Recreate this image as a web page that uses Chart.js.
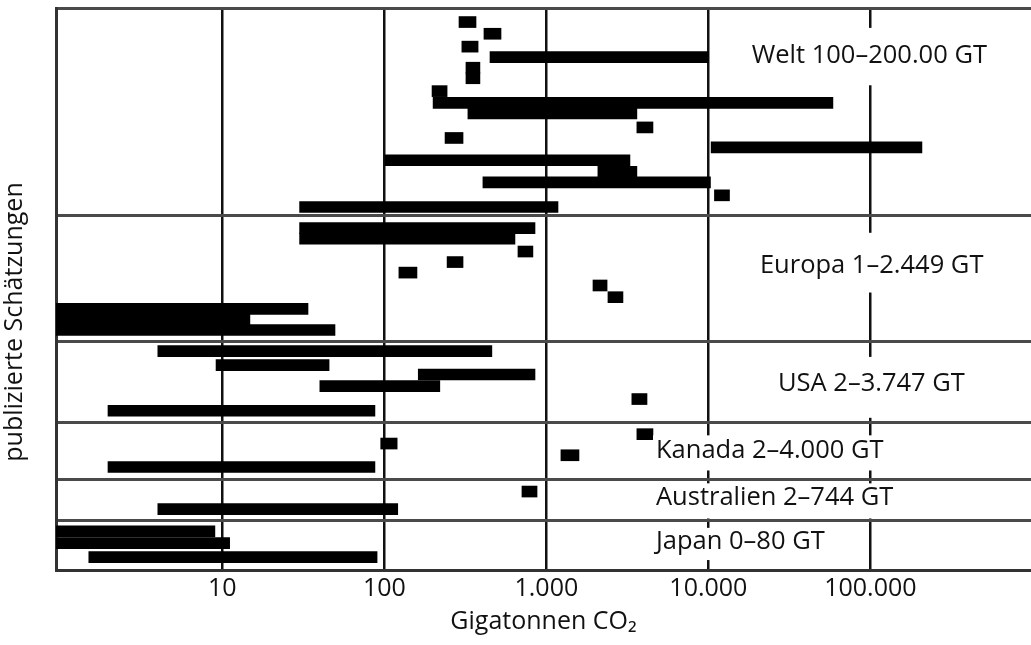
<!DOCTYPE html>
<html><head><meta charset="utf-8">
<script src="https://cdn.jsdelivr.net/npm/chart.js@4/dist/chart.umd.min.js"></script>
<style>html,body{margin:0;padding:0;background:#fff}canvas{display:block}</style>
</head><body>
<canvas id="c" width="1031" height="645"></canvas>
<script>
// ---- data ----
// row index of each published estimate (counted from the bottom)
const estimateRows = [
  46.8, 45.8, 44.7, 43.8, 42.9, 42.0, 40.9, 39.9, 39.0, 37.8, 36.9, 36.1, 35.0, 34.0, 33.1, 32.0, 31.0,
  29.2, 28.3, 27.2, 26.3, 25.4, 24.3, 23.3, 22.3, 21.4, 20.5,
  18.7, 17.5, 16.7, 15.7, 14.6, 13.6,
  11.6, 10.8, 9.8, 8.8,
  6.7, 5.2,
  3.3, 2.3, 1.1
];
// lower bound of each estimate (Gt CO2)
const lowValues = [
  289, 412, 301, 449, 319, 319, 197, 200, 328, 3620, 237, 10400, 101, 2080, 406, 10900, 30,
  30, 30, 668, 244, 123, 1940, 2400, 0.9, 0.9, 0.9,
  4.0, 9.15, 162, 40, 3370, 1.97,
  3620, 95, 1230, 1.97,
  707, 4.0,
  0.9, 0.9, 1.5
];
// upper bound of each estimate (Gt CO2)
const highValues = [
  368, 525, 379, 10000, 389, 389, 244, 58700, 3620, 4550, 306, 208000, 3280, 3620, 10300, 13500, 1180,
  851, 640, 826, 306, 159, 2370, 2970, 33.8, 14.8, 49.6,
  461, 45.6, 851, 220, 4180, 87.5,
  4550, 120, 1590, 87.5,
  876, 121,
  9.0, 11.1, 90.2
];
const regionNames = ['Welt 100–200.00 GT', 'Europa 1–2.449 GT', 'USA 2–3.747 GT', 'Kanada 2–4.000 GT', 'Australien 2–744 GT', 'Japan 0–80 GT'];
const regionBoundaries = [30.3, 19.5, 12.6, 7.7, 4.2];
const xTickValues = [10, 100, 1000, 10000, 100000];

// ---- layout of the region labels (value / row units) ----
const labelLayout = [
  {x: 18500, y: 43.9, top: 46.3, bottom: 41.4},
  {x: 20800, y: 26.0, top: 28.8, bottom: 23.7},
  {x: 26900, y: 15.9, top: 18.2, bottom: 13.0},
  {x: 4750,  y: 10.2, top: 11.5, bottom: 8.5},
  {x: 4750,  y: 6.2,  top: 7.4,  bottom: 4.4},
  {x: 4750,  y: 2.4,  top: 3.6,  bottom: 0.85}
];

const FONT = '"Open Sans", "Noto Sans", sans-serif';

const regionLabelPlugin = {
  id: 'regionLabels',
  afterDatasetsDraw(chart) {
    const ctx = chart.ctx, xs = chart.scales.x, ys = chart.scales.y;
    ctx.save();
    ctx.font = '25.5px ' + FONT;
    ctx.textBaseline = 'middle';
    ctx.textAlign = 'left';
    regionNames.forEach((name, i) => {
      const L = labelLayout[i];
      const px = xs.getPixelForValue(L.x);
      const w = ctx.measureText(name).width;
      const t = ys.getPixelForValue(L.top), b = ys.getPixelForValue(L.bottom);
      ctx.fillStyle = '#fff';
      ctx.fillRect(px - 3, t, w + 8, b - t);
      ctx.fillStyle = '#111';
      ctx.fillText(name, px, ys.getPixelForValue(L.y));
    });
    // y axis title
    ctx.translate(15, 322);
    ctx.rotate(-Math.PI / 2);
    ctx.textAlign = 'center';
    ctx.font = '25px ' + FONT;
    ctx.fillText('publizierte Schätzungen', 0, 0);
    ctx.restore();
  }
};

const fmt = v => String(v).replace(/\B(?=(\d{3})+(?!\d))/g, '.');

new Chart(document.getElementById('c'), {
  type: 'bar',
  data: {
    datasets: [{
      data: estimateRows.map((r, i) => ({x: [lowValues[i], highValues[i]], y: r})),
      backgroundColor: '#000',
      borderWidth: 0,
      borderSkipped: false,
      barThickness: 11
    }]
  },
  options: {
    indexAxis: 'y',
    responsive: false,
    animation: false,
    events: [],
    layout: {padding: {left: 56, top: 8, right: 0, bottom: 0}},
    plugins: {legend: {display: false}, tooltip: {enabled: false}},
    scales: {
      x: {
        type: 'logarithmic',
        min: 0.941,
        max: 980000,
        afterBuildTicks: s => { s.ticks = xTickValues.map(v => ({value: v})); },
        afterFit: s => { s.height = 75; },
        grid: {color: '#111', lineWidth: 2.5, drawTicks: false},
        border: {display: true, color: '#333', width: 3},
        ticks: {
          callback: v => fmt(v),
          color: '#111',
          font: {family: FONT, size: 25},
          padding: 4,
          maxRotation: 0,
          autoSkip: false
        },
        title: {
          display: true,
          text: 'Gigatonnen CO₂',
          color: '#111',
          font: {family: FONT, size: 25},
          padding: {top: 0, bottom: 8}
        }
      },
      y: {
        type: 'linear',
        min: 0,
        max: 48,
        offset: false,
        afterBuildTicks: s => { s.ticks = [0, ...regionBoundaries, 48].map(v => ({value: v})); },
        afterFit: s => { s.width = 0; },
        grid: {color: '#4a4a4a', lineWidth: 3, drawTicks: false, offset: false},
        border: {display: true, color: '#333', width: 3},
        ticks: {display: false}
      }
    }
  },
  plugins: [regionLabelPlugin]
});
</script>
</body></html>
